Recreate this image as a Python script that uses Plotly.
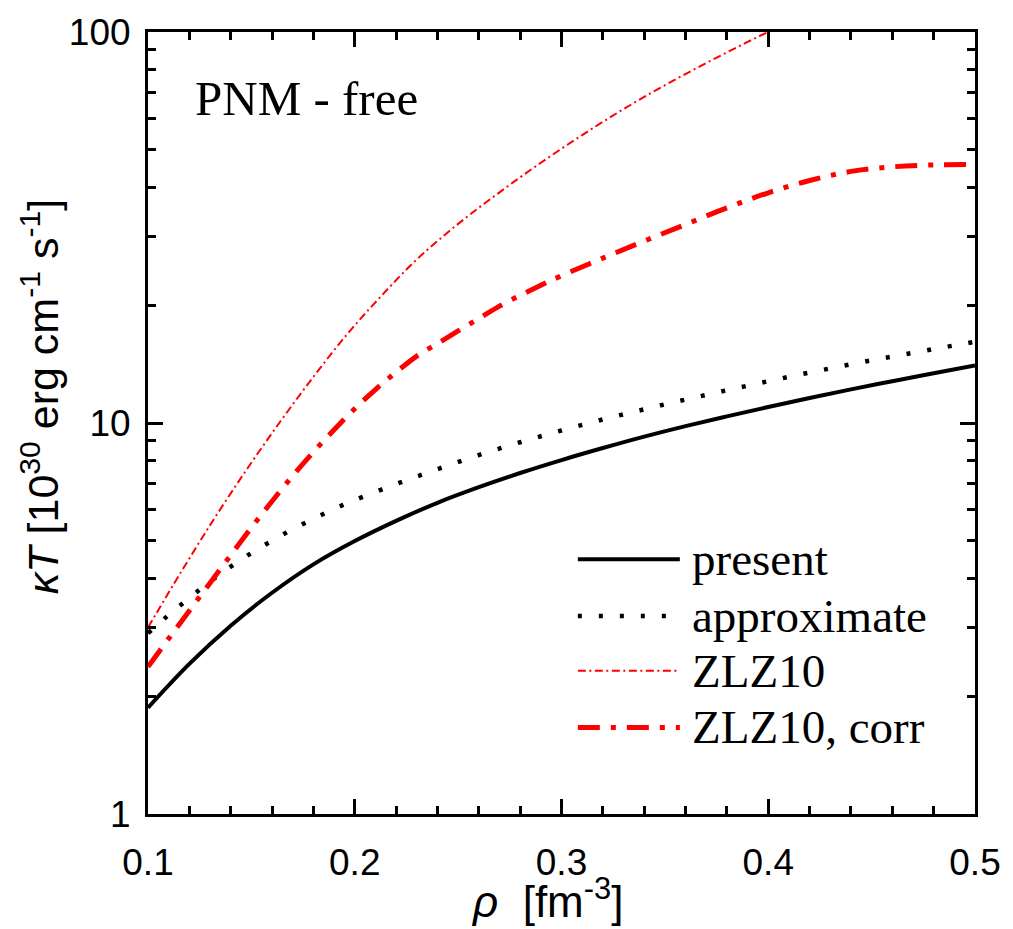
import plotly.graph_objects as go

# ---------------- data ----------------
rho_present = [0.10, 0.12, 0.14, 0.16, 0.18, 0.20, 0.22, 0.24, 0.26, 0.28, 0.30,
               0.32, 0.34, 0.36, 0.38, 0.40, 0.42, 0.44, 0.46, 0.48, 0.50]
kT_present = [1.87, 2.42, 3.03, 3.68, 4.35, 4.99, 5.62, 6.25, 6.85, 7.45, 8.04,
              8.63, 9.23, 9.82, 10.40, 10.99, 11.59, 12.19, 12.79, 13.40, 14.03]

rho_approx = [0.10, 0.11, 0.12, 0.13, 0.14, 0.15, 0.16, 0.17, 0.18, 0.19, 0.20,
              0.22, 0.24, 0.26, 0.28, 0.30, 0.32, 0.34, 0.36, 0.38, 0.40,
              0.42, 0.44, 0.46, 0.48, 0.50]
kT_approx = [2.90, 3.23, 3.57, 3.93, 4.29, 4.65, 5.00, 5.35, 5.69, 6.03, 6.35,
             6.98, 7.62, 8.28, 8.93, 9.57, 10.21, 10.84, 11.48, 12.13, 12.79,
             13.46, 14.13, 14.79, 15.45, 16.14]

rho_zlz = [0.10, 0.116, 0.132, 0.148, 0.164, 0.18, 0.196, 0.212, 0.23,
           0.25, 0.27, 0.29, 0.31, 0.33, 0.35, 0.37, 0.39, 0.41, 0.43]
kT_zlz = [3.0, 4.16, 5.69, 7.64, 10.09, 13.12, 16.79, 20.9, 26.2,
          32.3, 38.9, 46.3, 54.5, 63.5, 73.1, 83.3, 94.3, 106.1, 118.5]

rho_corr = [0.10, 0.11, 0.12, 0.13, 0.14, 0.15, 0.16, 0.17, 0.18, 0.19, 0.20,
            0.21, 0.22, 0.23, 0.24, 0.25, 0.26, 0.27, 0.28, 0.29, 0.30,
            0.32, 0.34, 0.36, 0.38, 0.40, 0.42, 0.44, 0.46, 0.48, 0.50]
kT_corr = [2.38, 2.81, 3.31, 3.90, 4.59, 5.40, 6.31, 7.33, 8.43, 9.61, 10.88,
           12.18, 13.49, 14.83, 15.96, 17.2, 18.5, 19.9, 21.2, 22.5, 23.8,
           26.4, 29.2, 32.2, 35.5, 38.8, 41.7, 44.0, 45.2, 45.7, 45.8]

x_ticks = [0.1, 0.2, 0.3, 0.4, 0.5]
x_ticklabels = ["0.1", "0.2", "0.3", "0.4", "0.5"]
y_ticks = [1, 10, 100]
y_ticklabels = ["1", "10", "100"]
y_minor = [2, 3, 4, 5, 6, 7, 8, 9, 20, 30, 40, 50, 60, 70, 80, 90]

legend_names = ["present", "approximate", "ZLZ10", "ZLZ10, corr"]

# ---------------- styles ----------------
styles = [
    dict(color="black", width=4, dash="solid"),
    dict(color="black", width=4.5, dash="4px,17px"),
    dict(color="#FF0000", width=2, dash="8px,3.5px,2px,3.5px"),
    dict(color="#FF0000", width=5, dash="22px,11px,5px,11px"),
]

series = [(rho_present, kT_present), (rho_approx, kT_approx),
          (rho_zlz, kT_zlz), (rho_corr, kT_corr)]

fig = go.Figure()
for (xs, ys), st, name in zip(series, styles, legend_names):
    fig.add_trace(go.Scatter(x=xs, y=ys, mode="lines", name=name,
                             line=dict(color=st["color"], width=st["width"],
                                       dash=st["dash"], shape="spline",
                                       smoothing=1.0),
                             showlegend=False))

# plot area in pixels
L, R, T, B = 148, 983, 28, 814
W, H = 1013, 929


def px(xp):
    return (xp - L) / (R - L)


def py(yp):
    return (B - yp) / (B - T)


# custom legend (long line samples like the reference)
rows = [558, 615, 670, 727]
for st, name, yr in zip(styles, legend_names, rows):
    fig.add_shape(type="line", xref="paper", yref="paper",
                  x0=px(582), x1=px(685), y0=py(yr), y1=py(yr),
                  line=dict(color=st["color"], width=st["width"], dash=st["dash"]))
    fig.add_annotation(x=px(695), y=py(yr), xref="paper", yref="paper",
                       text=name, showarrow=False, xanchor="left",
                       yanchor="middle",
                       font=dict(family="Liberation Serif", size=47, color="black"))

# label inside the plot
fig.add_annotation(x=px(193), y=py(95), xref="paper", yref="paper",
                   text="PNM - free", showarrow=False, xanchor="left",
                   yanchor="middle",
                   font=dict(family="Liberation Serif", size=49, color="black"))

# axis titles
fig.add_annotation(x=px(551), y=py(899), xref="paper", yref="paper",
                   text="<i>ρ</i>  [fm<sup>-3</sup>]", showarrow=False,
                   xanchor="center", yanchor="middle",
                   font=dict(family="Liberation Sans", size=44, color="black"))
fig.add_annotation(x=px(39), y=py(395), xref="paper", yref="paper",
                   text="<i>κT</i> [10<sup>30</sup> erg cm<sup>-1</sup> s<sup>-1</sup>]",
                   showarrow=False, textangle=-90,
                   xanchor="center", yanchor="middle",
                   font=dict(family="Liberation Sans", size=43, color="black"))

axis_common = dict(showgrid=False, zeroline=False, showline=True, linecolor="black",
                   linewidth=3, mirror="ticks", ticks="inside", ticklen=15,
                   tickwidth=2.5, tickcolor="black",
                   tickfont=dict(family="Liberation Sans", size=37, color="black"))

fig.update_xaxes(range=[0.1, 0.5], tickvals=x_ticks, ticktext=x_ticklabels,
                 ticklabelstandoff=14,
                 minor=dict(ticks="inside", ticklen=8, tickwidth=2.5,
                            tickcolor="black", dtick=0.02, tick0=0.1),
                 **axis_common)
fig.update_yaxes(type="log", range=[0, 2], tickvals=y_ticks, ticktext=y_ticklabels,
                 ticklabelstandoff=7,
                 minor=dict(ticks="inside", ticklen=8, tickwidth=2.5,
                            tickcolor="black", tickvals=y_minor),
                 **axis_common)

fig.update_layout(width=W, height=H, paper_bgcolor="white", plot_bgcolor="white",
                  margin=dict(l=L, r=W - R, t=T, b=H - B, pad=0),
                  showlegend=False)

fig.write_html("out.html")
